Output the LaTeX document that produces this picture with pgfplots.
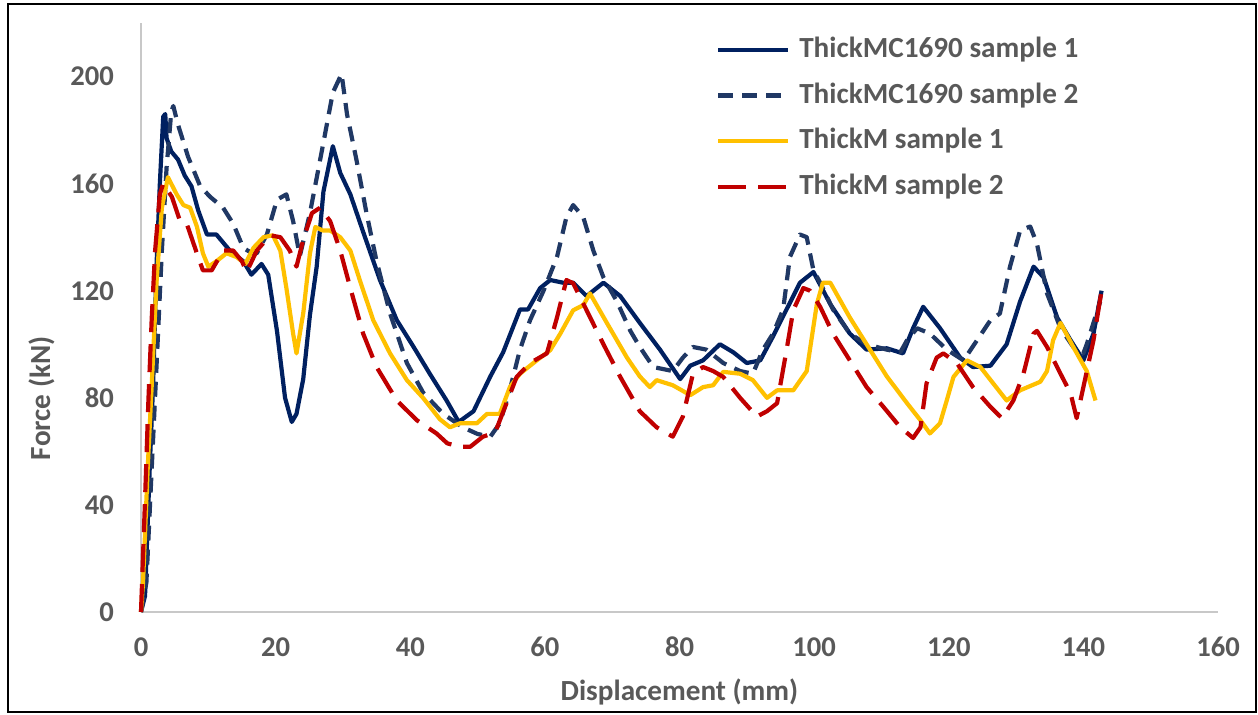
\documentclass[border=0pt]{standalone}
\usepackage{pgfplots}
\pgfplotsset{compat=1.18}
\usepackage{fontspec}
\setmainfont{Carlito}
\definecolor{navyA}{HTML}{002060}
\definecolor{navyB}{HTML}{203864}
\definecolor{goldA}{HTML}{FFC000}
\definecolor{redA}{HTML}{C00000}
\definecolor{txtgray}{HTML}{595959}
\definecolor{axgray}{HTML}{C8C8C8}
\begin{document}
\begin{tikzpicture}[x=1pt,y=1pt]
\useasboundingbox (-70.5,-51) rectangle (558.5,306);
\draw[black, line width=1.1pt] (-66.5,-49.8) rectangle (557.5,304);
\begin{axis}[
  at={(0,0)}, anchor=south west,
  scale only axis, width=538.5pt, height=294.5pt,
  xmin=0, xmax=160, ymin=0, ymax=220,
  axis x line=bottom, axis y line=left,
  axis line style={-, draw=axgray, line width=1.2pt},
  xtick={0,20,...,160}, ytick={0,40,...,200},
  major tick length=0pt,
  tick label style={font=\fontsize{14.3}{16}\selectfont\bfseries, text=txtgray},
  /pgf/number format/assume math mode=true,
  xticklabel style={anchor=base, yshift=-22pt},
  yticklabel style={anchor=east, xshift=-10pt},
  xlabel={Displacement (mm)}, ylabel={Force (kN)},
  label style={font=\fontsize{14.6}{16}\selectfont\bfseries, text=txtgray},
  xlabel style={at={(axis description cs:0.5,-0.136)}, anchor=center},
  ylabel style={at={(axis description cs:-0.092,0.363)}, anchor=center, rotate=0},
  legend cell align=left,
  legend style={draw=none, fill=none, at={(rel axis cs:0.528,0.838)}, anchor=west,
    font=\fontsize{14.6}{16}\selectfont\bfseries, text=txtgray,
    nodes={inner sep=0pt, text height=10.5pt, text depth=3pt},
    row sep=9.35pt, column sep=4.5pt},
  legend image code/.code={\draw[#1] (0pt,0pt) -- (35pt,0pt);},
  every axis plot/.append style={line width=2.1pt, line join=round, mark=none},
  clip=false,
]
\addplot[navyA] coordinates {
(0,0) (0.6,6) (1.3,54) (1.8,85) (2.3,129) (2.8,160) (3.3,185) (3.6,186) (3.8,177) (4.5,172) (5.5,169) (6.5,163) (7.5,159) (8.5,150) (9.8,141) (11.2,141) (13.2,135) (15.2,131) (16.4,126) (17.9,130) (18.9,126) (20.2,105) (21.4,80) (22.4,71) (23.1,74) (24.1,87) (25.1,111) (26.1,129) (27.1,157) (28.5,174) (29.6,164) (31.1,156) (33,142) (35.5,124) (38,109) (40.5,99) (42.9,89) (45.4,79) (47.2,71) (49.4,75) (51.9,88) (53.8,97) (56.3,113) (57.5,113) (59.3,121) (60.8,124) (62.7,123) (64.2,123) (66.2,118) (68.7,123) (71.2,118) (74.1,108) (77.1,98) (80.1,87) (81.6,92) (83.5,94) (86,100) (88,97) (90,93) (92,94) (93.9,103) (95.9,113) (97.9,123) (99.9,127) (102.4,115) (105.3,104) (107.8,98) (110.8,98.5) (113.2,96.6) (114.7,106) (116.2,114) (118.7,106) (121.7,95) (123.6,91.5) (126.2,92) (128.6,100) (130.6,116) (132.6,129) (134.1,125) (136.1,110) (138.1,101.5) (140,94) (141.5,104) (142.7,120)
};
\addlegendentry{ThickMC1690 sample 1}
\addplot[navyB, dash pattern=on 7.5pt off 4.5pt] coordinates {
(0,0) (0.8,11) (1.6,54) (2.3,91.5) (3.1,135) (3.8,166) (4.5,187) (4.8,189) (5.5,182) (7,170) (8.8,159) (10.3,155) (12.2,151) (13.7,145) (15.2,136) (16.5,134) (17.2,134) (18.7,141) (20.2,154) (21.6,156) (22.6,146) (23.6,133) (25.1,149) (27,174) (28.5,194) (29.8,201) (30.6,186) (32,169) (33.5,149) (35,131) (37,111.5) (39.5,93) (41.9,82) (44.9,74) (47.8,69) (50,66.5) (51.9,65.5) (53.3,70.5) (54.8,83) (56.3,98) (57.8,109) (59.8,120) (61.8,132.6) (63.2,147.5) (64.2,152) (65.7,147.5) (67.2,135) (68.7,125) (70.7,116) (72.7,105) (74.1,99) (76.1,91.5) (79,90) (80.5,95) (82,99) (84,98) (86.5,93) (89,90) (90.9,89) (92.4,98) (93.9,104) (95.4,113) (96.4,132.6) (97.9,141) (98.9,140) (99.9,127.6) (100.9,123) (102.8,113) (105.3,104) (107.8,100) (110.8,98) (112.8,97) (113.8,101.5) (115.3,106) (117.2,104) (119.7,98) (122.2,94) (124.2,101.5) (126.2,109) (127.6,111.5) (129.1,129) (130.6,142.5) (132.1,144) (133.1,137.6) (134.6,119) (136.6,106) (138.5,99) (140,96.6) (140.5,100) (142.5,116)
};
\addlegendentry{ThickMC1690 sample 2}
\addplot[goldA] coordinates {
(0,0) (0.3,11) (1,54) (1.6,85) (2.3,123) (3.1,151) (4,162.4) (5.3,156) (6.3,152) (7.3,151) (8.3,144) (9.2,134) (10,129) (11.2,131) (12.7,134) (14.2,132.6) (15.5,130) (16.7,136) (18.2,140) (19.6,140.7) (20.7,135) (21.6,121) (22.6,104) (23.1,96.6) (24.1,111.5) (25.1,134) (25.9,143.8) (27,142.5) (28.1,142.5) (29.6,140) (31.1,135) (32.5,124) (34.5,109) (37,96.6) (39.5,86.6) (41.9,80) (44.4,72) (45.9,69) (47.4,70.5) (49.9,70.5) (51.4,74) (53.3,74) (54.8,84) (56.3,89) (58.8,94) (60.8,97.8) (62.3,104) (64.2,112.7) (65.7,114.6) (66.7,119) (69.2,108) (72.2,95) (74.1,88) (75.6,84) (76.6,86.6) (79,84.7) (81.6,81) (83.5,84) (85,84.7) (86.5,89.7) (89,89) (90.9,86.6) (93,80) (94.5,82.8) (96.9,82.8) (98.9,90) (100.4,115) (101.3,123) (102.4,123) (105.3,110) (107.8,100) (110.8,88) (113.8,78) (115.8,71.6) (117.2,66.7) (118.7,70.5) (119.7,79) (120.7,87.8) (122.7,94) (124.7,91.5) (126.6,85.4) (128.6,79) (130.6,82.8) (133.6,86) (134.6,90) (135.5,101.5) (136.6,108) (138.5,99) (140.5,90) (141.8,79)
};
\addlegendentry{ThickM sample 1}
\addplot[redA, dash pattern=on 14pt off 6pt] coordinates {
(0,0) (0.6,42) (1.1,79) (1.6,110) (2.1,135) (2.8,156) (3.3,160) (4.6,155) (5.8,146) (6.8,145) (8.3,134) (9.2,127.6) (10.5,127.6) (12.2,135) (13.7,135) (15,131) (15.7,127) (17.2,135) (19.2,140.7) (20.7,140) (22.1,135) (23.1,129) (24.1,139) (25.4,149) (26.6,151) (28.1,146) (29.6,135) (31.1,121) (33,104) (35,91.5) (38,79) (41,71.6) (43.9,66.7) (45.5,63) (47.4,61.7) (48.9,61.7) (50.8,65.5) (52.6,67) (54.3,78) (55.8,87.8) (57.8,93) (60.3,96.6) (61.8,110) (63.2,124) (64.2,122.8) (66.2,112.7) (68.7,100) (71.2,87.8) (74.1,75) (76.6,69) (79,65.5) (80.5,73) (82,89) (83.5,91.5) (85,90) (86.5,87.8) (89,80) (91.5,73) (93,75) (94.5,78) (95.9,97.8) (96.9,112.7) (98.4,121) (99.4,120) (100.9,114) (102.8,104) (105.3,94) (107.8,84) (110.3,76.6) (112.8,69) (114.7,65) (115.8,69) (116.7,85.4) (118.2,95) (119.2,96.6) (121.2,93) (123.6,84) (126.2,76.6) (127.9,72.4) (129.6,79) (131.1,89) (132.6,104) (133.1,105) (134.6,99) (136.6,89) (138.1,81.7) (139,72.4) (140,84) (141.5,101.5) (142.7,120)
};
\addlegendentry{ThickM sample 2}
\end{axis}
\end{tikzpicture}
\end{document}
